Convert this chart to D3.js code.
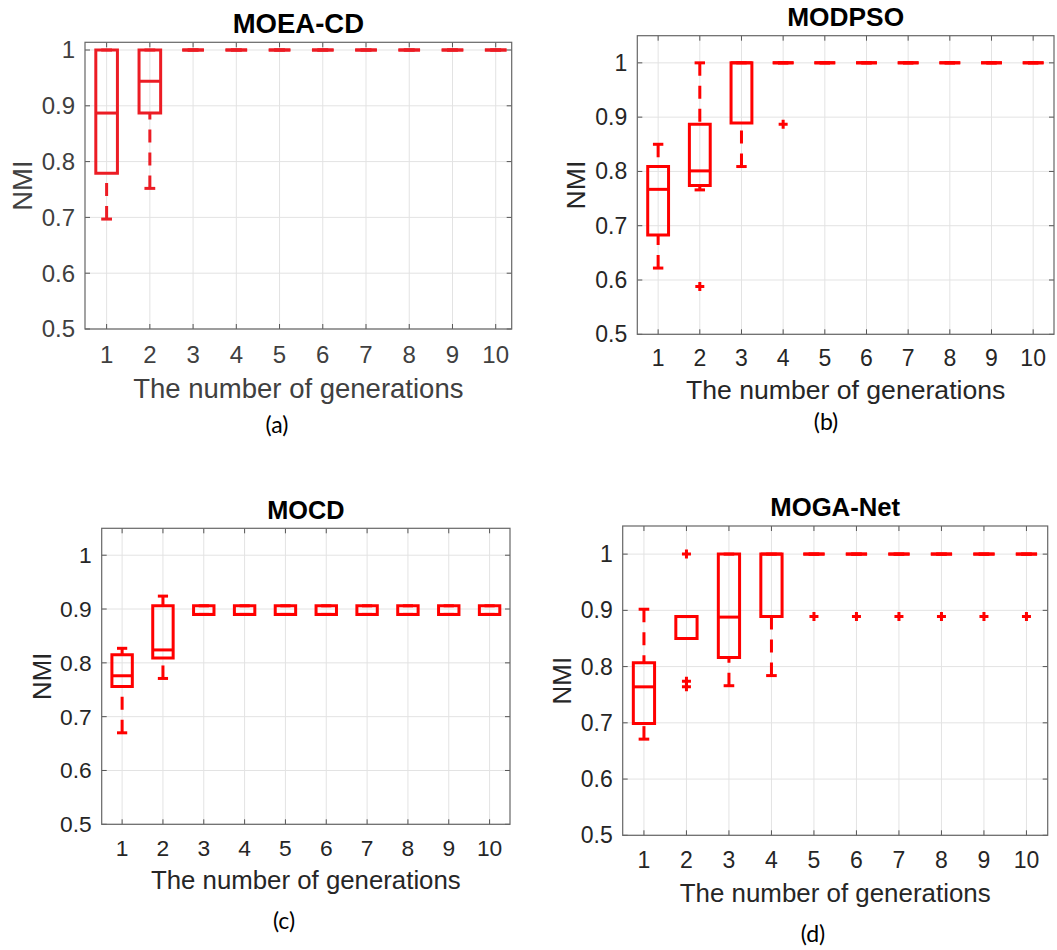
<!DOCTYPE html>
<html>
<head>
<meta charset="utf-8">
<script src="https://cdn.jsdelivr.net/npm/d3@7"></script>
<style>
  body { margin: 0; background: #fff; }
  svg { display: block; }
</style>
</head>
<body>
<script>
// ---- data ----
const generations = [1, 2, 3, 4, 5, 6, 7, 8, 9, 10]
const yTicks = [0.5, 0.6, 0.7, 0.8, 0.9, 1]
const yTickLabels = ['0.5', '0.6', '0.7', '0.8', '0.9', '1']

// one row per generation: [lower whisker, q1, median, q3, upper whisker]
const moeaCdBoxes = [
  [0.697, 0.779, 0.887, 1, 1],
  [0.752, 0.887, 0.944, 1, 1],
  [1, 1, 1, 1, 1], [1, 1, 1, 1, 1], [1, 1, 1, 1, 1], [1, 1, 1, 1, 1],
  [1, 1, 1, 1, 1], [1, 1, 1, 1, 1], [1, 1, 1, 1, 1], [1, 1, 1, 1, 1]
]
const moeaCdOutliers = []

const modpsoBoxes = [
  [0.622, 0.683, 0.767, 0.809, 0.850],
  [0.766, 0.774, 0.801, 0.887, 1],
  [0.809, 0.889, 1, 1, 1],
  [1, 1, 1, 1, 1], [1, 1, 1, 1, 1], [1, 1, 1, 1, 1], [1, 1, 1, 1, 1],
  [1, 1, 1, 1, 1], [1, 1, 1, 1, 1], [1, 1, 1, 1, 1]
]
const modpsoOutliers = [[2, 0.588], [4, 0.887]]

const mocdBoxes = [
  [0.670, 0.756, 0.776, 0.815, 0.827],
  [0.771, 0.809, 0.824, 0.906, 0.924],
  [0.890, 0.890, 0.890, 0.906, 0.906], [0.890, 0.890, 0.890, 0.906, 0.906],
  [0.890, 0.890, 0.890, 0.906, 0.906], [0.890, 0.890, 0.890, 0.906, 0.906],
  [0.890, 0.890, 0.890, 0.906, 0.906], [0.890, 0.890, 0.890, 0.906, 0.906],
  [0.890, 0.890, 0.890, 0.906, 0.906], [0.890, 0.890, 0.890, 0.906, 0.906]
]
const mocdOutliers = []

const mogaNetBoxes = [
  [0.671, 0.699, 0.764, 0.807, 0.902],
  [0.850, 0.850, 0.889, 0.889, 0.889],
  [0.766, 0.816, 0.888, 1, 1],
  [0.784, 0.889, 1, 1, 1],
  [1, 1, 1, 1, 1], [1, 1, 1, 1, 1], [1, 1, 1, 1, 1],
  [1, 1, 1, 1, 1], [1, 1, 1, 1, 1], [1, 1, 1, 1, 1]
]
const mogaNetOutliers = [
  [2, 1], [2, 0.774], [2, 0.764],
  [5, 0.889], [6, 0.889], [7, 0.889], [8, 0.889], [9, 0.889], [10, 0.889]
]

// ---- layout per panel ----
const panels = [
  { title: 'MOEA-CD', caption: '(a)', boxes: moeaCdBoxes, outliers: moeaCdOutliers,
    left: 85, top: 42.3, right: 511.7, bottom: 329, xMax: 10.37, yMax: 1.0138,
    color: '#ec1c24', ink: '#404040', tickFs: 24, labelFs: 27.5, titleFs: 27.5,
    titleY: 23, tickY: 355, xLabelY: 388, yLabelX: 22, capX: 277, capY: 425 },
  { title: 'MODPSO', caption: '(b)', boxes: modpsoBoxes, outliers: modpsoOutliers,
    left: 637.3, top: 35.7, right: 1054, bottom: 334.3, xMax: 10.5, yMax: 1.05,
    color: '#ff0000', ink: '#262626', tickFs: 23, labelFs: 26.6, titleFs: 26.3,
    titleY: 17, tickY: 358, xLabelY: 390, yLabelX: 575.5, capX: 826, capY: 422 },
  { title: 'MOCD', caption: '(c)', boxes: mocdBoxes, outliers: mocdOutliers,
    left: 101.7, top: 528.3, right: 510, bottom: 824.3, xMax: 10.5, yMax: 1.05,
    color: '#ff0000', ink: '#262626', tickFs: 22.8, labelFs: 25.8, titleFs: 25.3,
    titleY: 510, tickY: 848, xLabelY: 880, yLabelX: 41.7, capX: 284, capY: 921 },
  { title: 'MOGA-Net', caption: '(d)', boxes: mogaNetBoxes, outliers: mogaNetOutliers,
    left: 622.7, top: 526, right: 1047.7, bottom: 835.3, xMax: 10.5, yMax: 1.05,
    color: '#ff0000', ink: '#262626', tickFs: 23, labelFs: 25.9, titleFs: 25.7,
    titleY: 507, tickY: 860, xLabelY: 893, yLabelX: 562, capX: 813, capY: 934 }
]

const FONT = '"Liberation Sans", Arial, Helvetica, sans-serif'

const svg = d3.select('body').append('svg')
  .attr('width', 1057).attr('height', 950)

panels.forEach(p => {
  const x = d3.scaleLinear().domain([0.5, p.xMax]).range([p.left, p.right])
  const y = d3.scaleLinear().domain([0.5, p.yMax]).range([p.bottom, p.top])
  const g = svg.append('g')

  // grid
  g.selectAll('.gx').data(generations).join('line')
    .attr('x1', d => x(d)).attr('x2', d => x(d))
    .attr('y1', p.top).attr('y2', p.bottom)
    .attr('stroke', '#e3e3e3').attr('stroke-width', 1)
  g.selectAll('.gy').data(yTicks).join('line')
    .attr('x1', p.left).attr('x2', p.right)
    .attr('y1', d => y(d)).attr('y2', d => y(d))
    .attr('stroke', '#e3e3e3').attr('stroke-width', 1)

  // inward ticks on all four sides
  const tl = 5
  generations.forEach(d => {
    g.append('line').attr('x1', x(d)).attr('x2', x(d)).attr('y1', p.bottom).attr('y2', p.bottom - tl).attr('stroke', '#555')
    g.append('line').attr('x1', x(d)).attr('x2', x(d)).attr('y1', p.top).attr('y2', p.top + tl).attr('stroke', '#555')
  })
  yTicks.forEach(d => {
    g.append('line').attr('x1', p.left).attr('x2', p.left + tl).attr('y1', y(d)).attr('y2', y(d)).attr('stroke', '#555')
    g.append('line').attr('x1', p.right).attr('x2', p.right - tl).attr('y1', y(d)).attr('y2', y(d)).attr('stroke', '#555')
  })

  // frame
  g.append('rect')
    .attr('x', p.left).attr('y', p.top)
    .attr('width', p.right - p.left).attr('height', p.bottom - p.top)
    .attr('fill', 'none').attr('stroke', '#666').attr('stroke-width', 1.2)

  // boxes
  const halfBox = 0.25, halfCap = 0.125
  p.boxes.forEach((b, i) => {
    const gen = generations[i]
    const [lo, q1, med, q3, hi] = b
    const bx = g.append('g').attr('fill', 'none').attr('stroke', p.color).attr('stroke-width', 3)
    // whiskers (dashed, drawn from cap to box)
    if (hi > q3) {
      bx.append('line').attr('x1', x(gen)).attr('x2', x(gen))
        .attr('y1', y(hi)).attr('y2', y(q3)).attr('stroke-dasharray', '13,10')
    }
    if (lo < q1) {
      bx.append('line').attr('x1', x(gen)).attr('x2', x(gen))
        .attr('y1', y(lo)).attr('y2', y(q1)).attr('stroke-dasharray', '13,10')
    }
    // caps
    ;[lo, hi].forEach(v => {
      bx.append('line').attr('x1', x(gen - halfCap)).attr('x2', x(gen + halfCap))
        .attr('y1', y(v)).attr('y2', y(v))
    })
    // box
    bx.append('path')
      .attr('d', `M${x(gen - halfBox)},${y(q3)}H${x(gen + halfBox)}V${y(q1)}H${x(gen - halfBox)}Z`)
    // median
    bx.append('line').attr('x1', x(gen - halfBox)).attr('x2', x(gen + halfBox))
      .attr('y1', y(med)).attr('y2', y(med))
  })

  // outliers
  const s = 4.5
  p.outliers.forEach(([gen, v]) => {
    g.append('path')
      .attr('d', `M${x(gen) - s},${y(v)}H${x(gen) + s}M${x(gen)},${y(v) - s}V${y(v) + s}`)
      .attr('stroke', p.color).attr('stroke-width', 3).attr('fill', 'none')
  })

  // tick labels
  g.selectAll('.yl').data(yTicks).join('text')
    .attr('x', p.left - 10).attr('y', d => y(d)).attr('dy', '0.35em')
    .attr('text-anchor', 'end')
    .style('font-family', FONT).style('font-size', p.tickFs + 'px')
    .attr('fill', p.ink)
    .text((d, i) => yTickLabels[i])
  g.selectAll('.xl').data(generations).join('text')
    .attr('x', d => x(d)).attr('y', p.tickY).attr('dy', '0.35em')
    .attr('text-anchor', 'middle')
    .style('font-family', FONT).style('font-size', p.tickFs + 'px')
    .attr('fill', p.ink)
    .text(d => d)

  // axis labels
  g.append('text')
    .attr('x', (p.left + p.right) / 2).attr('y', p.xLabelY).attr('dy', '0.35em')
    .attr('text-anchor', 'middle')
    .style('font-family', FONT).style('font-size', p.labelFs + 'px')
    .attr('fill', p.ink)
    .text('The number of generations')
  const yMid = (p.top + p.bottom) / 2
  g.append('text')
    .attr('transform', `translate(${p.yLabelX},${yMid}) rotate(-90)`)
    .attr('dy', '0.35em')
    .attr('text-anchor', 'middle')
    .style('font-family', FONT).style('font-size', p.labelFs + 'px')
    .attr('fill', p.ink)
    .text('NMI')

  // title
  g.append('text')
    .attr('x', (p.left + p.right) / 2).attr('y', p.titleY).attr('dy', '0.35em')
    .attr('text-anchor', 'middle')
    .style('font-family', FONT).style('font-size', p.titleFs + 'px')
    .style('font-weight', 'bold')
    .attr('fill', '#000')
    .text(p.title)

  // sub-figure caption
  g.append('text')
    .attr('x', p.capX).attr('y', p.capY).attr('dy', '0.35em')
    .attr('text-anchor', 'middle')
    .style('font-family', 'Lato, "Open Sans", sans-serif').style('font-size', '23px')
    .attr('fill', '#000')
    .text(p.caption)
})
</script>
</body>
</html>
